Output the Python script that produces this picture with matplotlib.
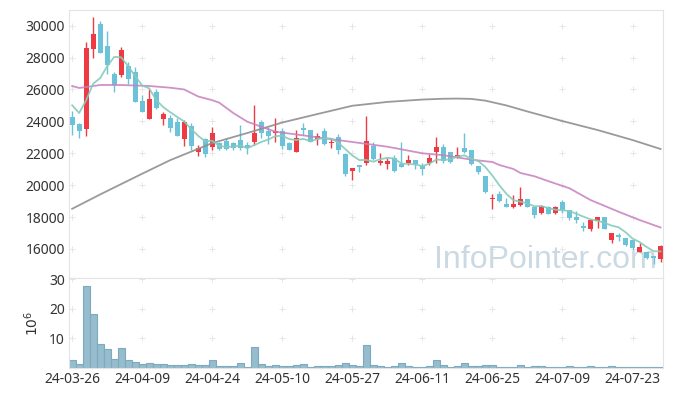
import numpy as np
import pandas as pd
import matplotlib
matplotlib.use("Agg")
import matplotlib.pyplot as plt

plt.rcParams["font.family"] = ["Noto Sans", "DejaVu Sans"]

# daily candles (KRW), 2024-03-26 .. 2024-07-29
opens = [24275, 23837, 23504, 28558, 30100, 28727, 26971, 26890, 27473, 27097,
         25260, 24169, 25843, 24169, 24194, 23944, 22896, 23730, 22100, 22896,
         22413, 22626, 22771, 22626, 22833, 22500, 22727, 23981, 23398, 23253,
         23398, 22626, 22100, 23567, 23460, 22877, 23398, 22626, 23021, 21937,
         20890, 21266, 21410, 22430, 21390, 21330, 21686, 21330, 21410, 21580,
         21225, 21370, 22100, 22413, 22060, 21723, 22313, 22206, 21200, 20600,
         19115, 19450, 18820, 18650, 18760, 19135, 18650, 18240, 18650, 18240,
         18965, 18444, 18025, 17460, 17250, 17770, 18025, 16560, 16880, 16670,
         16560, 15830, 15830, 15580, 15370]
highs = [24633, 23918, 28978, 30527, 30276, 29650, 27100, 28665, 27724, 27410,
         25636, 26050, 26000, 24589, 24400, 24194, 24087, 23881, 22520, 22978,
         23667, 22730, 22980, 22730, 23774, 22730, 25028, 24087, 23667, 24194,
         23600, 22730, 23460, 23880, 23460, 23253, 23600, 22978, 23230, 22030,
         21100, 21266, 24338, 22700, 22040, 21730, 21890, 22727, 21900, 21580,
         21380, 21935, 23000, 22600, 22100, 22413, 23250, 22206, 21200, 20600,
         19430, 19640, 19200, 19380, 19900, 19135, 18650, 18750, 18700, 18700,
         19080, 18444, 18400, 17680, 17880, 18025, 18025, 16980, 16980, 16670,
         16560, 16350, 15830, 15580, 16270]
lows = [23128, 22960, 23084, 27975, 28300, 26990, 25843, 26780, 26363, 25216,
        24589, 24169, 24800, 23755, 23354, 23103, 22476, 22206, 21849, 21786,
        22206, 22206, 22206, 22206, 22206, 21950, 22520, 22940, 22560, 22727,
        22300, 22206, 22060, 23150, 22727, 22520, 22520, 22313, 21950, 20600,
        20330, 20850, 21266, 21600, 21266, 21000, 20800, 21120, 21270, 21000,
        20660, 21266, 21370, 21400, 21400, 21690, 22000, 21250, 20700, 19500,
        18510, 18960, 18650, 18550, 18713, 18650, 17950, 18200, 18190, 18200,
        18260, 17800, 17630, 17150, 17150, 17295, 17230, 16360, 16520, 16200,
        15960, 15830, 15400, 15050, 15200]
closes = [23793, 23378, 28602, 29480, 28307, 27517, 26300, 28476, 26677, 25216,
          24589, 25385, 24840, 24463, 23605, 23103, 23944, 22476, 22313, 21937,
          23253, 22269, 22269, 22350, 22350, 22350, 23253, 23253, 23103, 23417,
          22476, 22206, 22940, 23480, 22727, 23084, 22560, 22727, 22206, 20720,
          21100, 21120, 22770, 21640, 21520, 21520, 20910, 21160, 21580, 21330,
          21015, 21680, 22413, 21520, 21470, 21893, 22060, 21310, 20810, 19590,
          19220, 19010, 18650, 18820, 19135, 18650, 18130, 18700, 18190, 18650,
          18444, 17920, 17815, 17295, 17815, 18025, 17230, 16980, 16770, 16250,
          16040, 16140, 15450, 15420, 16180]
# last four closes before the window, needed for the 5-day average
prior_closes = [25798, 24622, 24265, 26572]

# volume, millions of shares
volume = [2.7, 1.4, 27.6, 18.1, 8.1, 6.4, 3.1, 6.8, 2.7, 2.1,
          1.4, 1.7, 1.4, 1.4, 1.0, 1.0, 1.0, 1.4, 1.0, 1.0,
          2.5, 0.7, 0.7, 0.7, 1.7, 0.35, 7.1, 1.4, 0.7, 1.0,
          0.7, 0.7, 1.0, 1.4, 0.35, 0.7, 0.7, 0.7, 1.0, 1.7,
          1.0, 0.7, 7.9, 1.0, 0.7, 0.35, 0.7, 1.7, 0.7, 0.35,
          0.35, 0.7, 2.7, 1.0, 0.35, 0.7, 1.7, 0.7, 0.7, 1.0,
          1.0, 0.35, 0.35, 0.35, 1.0, 0.35, 0.7, 0.7, 0.35, 0.35,
          0.35, 0.7, 0.35, 0.35, 0.7, 0.35, 0.35, 0.7, 0.35, 0.35,
          0.35, 0.35, 0.35, 0.35, 0.35]

# 20-day and 120-day averages (need history not shown)
ma20_idx = [0, 1, 4, 7, 11, 14, 16, 18, 20, 21, 23, 25, 27, 29, 33, 40, 45, 50,
            53, 57, 60, 61, 63, 64, 66, 68, 71, 74, 78, 81, 84]
ma20_val = [26219, 26094, 26282, 26282, 26219, 26112, 26000, 25560, 25330, 25172,
            24526, 23981, 23667, 23354, 23120, 22708, 22413, 22000, 21880, 21600,
            21454, 21266, 21015, 20764, 20560, 20250, 19805, 19071, 18337, 17818, 17347]
ma120_idx = [0, 4, 10, 14, 20, 25, 30, 35, 40, 45, 50, 53, 55, 57, 59, 62, 65, 70,
             75, 80, 84]
ma120_val = [18520, 19420, 20720, 21570, 22640, 23270, 23930, 24460, 24980, 25220,
             25370, 25420, 25430, 25410, 25300, 25000, 24620, 24020, 23460, 22830,
             22270]

tick_labels = ["24-03-26", "24-04-09", "24-04-24", "24-05-10", "24-05-27",
               "24-06-11", "24-06-25", "24-07-09", "24-07-23"]

RED = "#ee3a42"
BLUE = "#6cc2d9"

o = np.array(opens); h = np.array(highs); l = np.array(lows); c = np.array(closes)
x = np.arange(len(c))
up = c > o
col = np.where(up, RED, BLUE)

all_close = pd.Series(prior_closes + closes)
ma5 = all_close.rolling(5).mean().to_numpy()[len(prior_closes):]

fig = plt.figure(figsize=(6.73, 3.96), dpi=100)
ax = fig.add_axes([69/673, 1-278/396, 594/673, 268/396])
axv = fig.add_axes([69/673, 1-367.8/396, 594/673, 89.8/396], sharex=ax)

xt = np.arange(0, 81, 10)
yt = np.arange(16000, 30001, 2000)
gx, gy = np.meshgrid(xt, yt)
ax.plot(gx.ravel(), gy.ravel(), "+", color="#e6e6e6", ms=5, mew=0.7, zorder=0)

ax.vlines(x, l, h, colors=col, lw=1.0, zorder=2)
body = np.maximum(np.abs(c - o), 90)
ax.bar(x, body, bottom=np.minimum(o, c), width=0.72, color=col, lw=0, zorder=2)

ax.plot(ma120_idx, ma120_val, color="#8f8f8f", lw=1.3, alpha=0.9, zorder=3)
ax.plot(ma20_idx, ma20_val, color="#c77fbf", lw=1.3, alpha=0.85, zorder=3)
ax.plot(x, ma5, color="#86cbbb", lw=1.3, alpha=0.9, zorder=3)

ax.text(0.99, 0.037, "InfoPointer.com", transform=ax.transAxes, ha="right",
        va="baseline", fontsize=23, color="#cbd9e3", zorder=1,
        family=["Liberation Sans", "DejaVu Sans"])

ax.set_xlim(-0.45, 84.35)
ax.set_ylim(14181, 30984)
ax.set_yticks(yt)
ax.tick_params(axis="x", labelbottom=False, length=0)
ax.tick_params(axis="y", length=0, labelsize=10, labelcolor="#333333", pad=3)

axv.bar(x, volume, width=1.0, color="#96bccd", edgecolor="#7eaabf", lw=0.8, zorder=2)
vt = [10, 20, 30]
gx2, gy2 = np.meshgrid(xt, vt)
axv.plot(gx2.ravel(), gy2.ravel(), "+", color="#e6e6e6", ms=5, mew=0.7, zorder=0)
axv.set_ylim(0, 30.45)
axv.set_yticks(vt)
axv.set_xticks(xt)
axv.set_xticklabels(tick_labels)
axv.tick_params(length=0, labelsize=10, labelcolor="#333333", pad=3)
axv.set_ylabel(r"$10^6$", fontsize=10, color="#333333", labelpad=5)

for a in (ax, axv):
    for s in a.spines.values():
        s.set_color("#e4e4e4")
        s.set_linewidth(0.8)

fig.savefig("out.png", dpi=100)
